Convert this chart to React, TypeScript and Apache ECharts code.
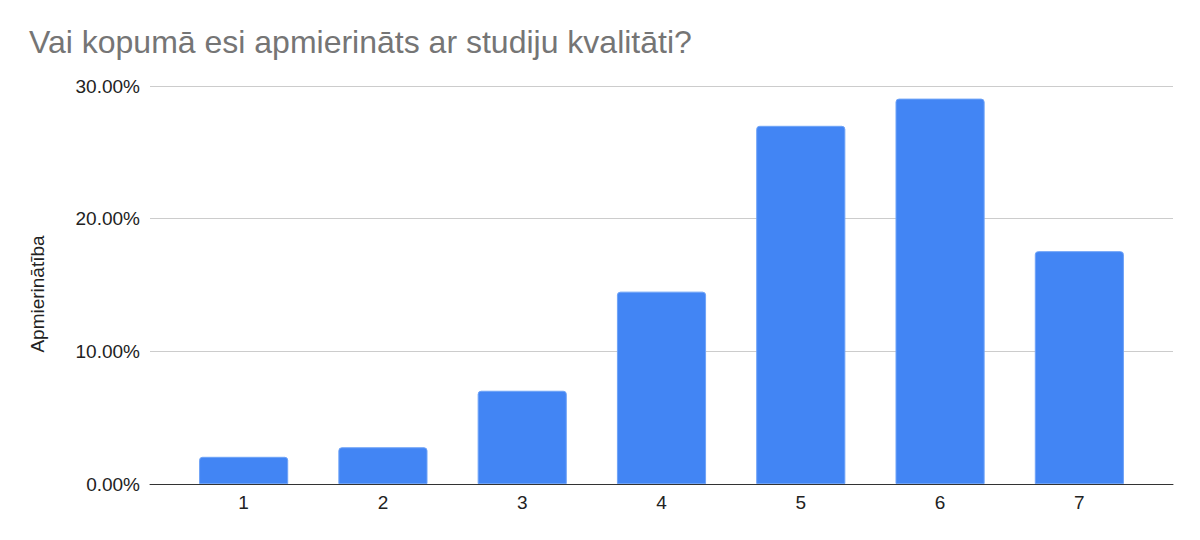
import React, { useEffect, useRef } from "react";
import * as echarts from "echarts";

const categories = ["1", "2", "3", "4", "5", "6", "7"];
const values = [2.05, 2.77, 7.03, 14.5, 27.0, 29.05, 17.55];
const yTicks = [0, 10, 20, 30];
const FONT = "Liberation Sans, Arial, sans-serif";

export default function App() {
  const ref = useRef<HTMLDivElement>(null);
  useEffect(() => {
    if (!ref.current) return;
    const chart = echarts.init(ref.current, undefined, { renderer: "svg" });
    chart.setOption({
      animation: false,
      backgroundColor: "#fff",
      title: {
        text: "Vai kopumā esi apmierināts ar studiju kvalitāti?",
        left: 24,
        top: 21,
        textStyle: { fontFamily: FONT, fontSize: 32, fontWeight: "normal", color: "#757575" },
      },
      graphic: [
        {
          type: "text",
          x: 37,
          y: 294,
          rotation: Math.PI / 2,
          style: {
            text: "Apmierinātība",
            fontFamily: FONT,
            fontSize: 19,
            fill: "#222",
            align: "center",
            verticalAlign: "middle",
          },
        },
      ],
      grid: [
        { left: 150, right: 27, top: 86, bottom: 56, containLabel: false },
        { left: 174, right: 51, top: 86, bottom: 56, containLabel: false },
      ],
      xAxis: [
        {
          type: "category",
          gridIndex: 0,
          data: categories,
          axisLine: { lineStyle: { color: "#333", width: 1 } },
          axisTick: { show: false },
          axisLabel: { show: false },
        },
        {
          type: "category",
          gridIndex: 1,
          data: categories,
          axisLine: { show: false },
          axisTick: { show: false },
          axisLabel: { fontFamily: FONT, fontSize: 19, color: "#222", margin: 9 },
        },
      ],
      yAxis: [
        {
          type: "value",
          gridIndex: 0,
          min: yTicks[0],
          max: yTicks[yTicks.length - 1],
          interval: 10,
          axisLine: { show: false },
          axisTick: { show: false },
          splitLine: { lineStyle: { color: "#ccc", width: 1 } },
          axisLabel: {
            fontFamily: FONT,
            fontSize: 19,
            color: "#222",
            margin: 10,
            formatter: (v: number) => v.toFixed(2) + "%",
          },
        },
        {
          type: "value",
          gridIndex: 1,
          min: yTicks[0],
          max: yTicks[yTicks.length - 1],
          interval: 10,
          show: false,
          splitLine: { show: false },
        },
      ],
      series: [
        {
          type: "bar",
          xAxisIndex: 1,
          yAxisIndex: 1,
          data: values,
          barCategoryGap: "36%",
          z: 3,
          itemStyle: {
            color: "#4285F4",
            borderColor: "#6fa3f7",
            borderWidth: 1,
            borderRadius: [3, 3, 0, 0],
          },
        },
      ],
    });
    return () => chart.dispose();
  }, []);
  return <div ref={ref} style={{ width: 1200, height: 540, position: "absolute", left: 0, top: 0 }} />;
}
